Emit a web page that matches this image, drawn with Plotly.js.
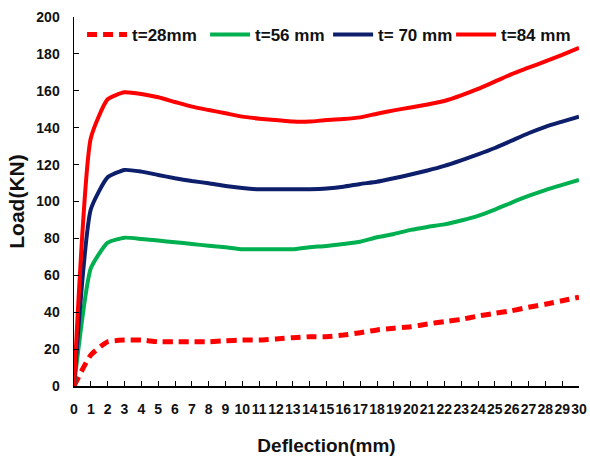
<!DOCTYPE html>
<html>
<head>
<meta charset="utf-8">
<script src="https://cdn.plot.ly/plotly-3.0.1.min.js"></script>
<style>html,body{margin:0;padding:0;background:#fff;}#chart{width:590px;height:464px;}</style>
</head>
<body>
<div id="chart"></div>
<script>
const deflection = [0,1,2,3,4,5,6,7,8,9,10,11,12,13,14,15,16,17,18,19,20,21,22,23,24,25,26,27,28,29,30];
const seriesNames = ["t=28mm", "t=56 mm", "t= 70 mm", "t=84 mm"];
const load28 = [0,16.8,24,24.9,24.9,24,24,24,24,24.5,24.9,24.9,25.5,26.2,26.7,26.7,27.6,28.9,30.4,31.3,32.1,33.6,34.9,36.1,37.9,39.4,40.8,42.7,44.3,46.2,48.1];
const load56 = [0,63.8,77.7,80.4,79.7,78.8,77.9,77,76,75.2,74.1,74.1,74.1,74.1,75.2,75.9,77,78.2,80.6,82.4,84.6,86.2,87.6,89.7,92.2,95.6,99.4,103,106.2,109,111.7];
const load70 = [0,95.8,113.1,117.1,116.2,114.4,112.6,111.1,109.9,108.4,107.3,106.6,106.6,106.6,106.7,107.1,108,109.5,110.7,112.6,114.6,116.8,119.3,122.3,125.5,129,133,137,140.5,143.3,146];
const load84 = [0,134.4,155.4,159.2,158.3,156.5,153.9,151.4,149.6,147.8,146,144.9,144.2,143.3,143.3,144.2,144.7,145.6,147.6,149.4,151,152.6,154.5,157.5,161,165,169,172.5,176,179.5,183.3];
const xTickLabels = deflection.map(String);
const yTickVals = [0,20,40,60,80,100,120,140,160,180,200];

const sans = '"Liberation Sans", Arial, sans-serif';
const allLoads = [load28, load56, load70, load84];
const styles = [
  {color:'#FF0000', width:5, dash:'10px,6px'},
  {color:'#00B050', width:4, dash:'solid'},
  {color:'#0D1F6B', width:4, dash:'solid'},
  {color:'#FF0000', width:4, dash:'solid'}
];
const traces = allLoads.map((ys, i) => ({
  x: deflection, y: ys, name: seriesNames[i], type:'scatter', mode:'lines',
  line: {color: styles[i].color, width: styles[i].width, dash: styles[i].dash, shape:'spline', smoothing:0.5}
}));

const layout = {
  width:590, height:464,
  margin:{l:74, r:11, t:17, b:78},
  paper_bgcolor:'#fff', plot_bgcolor:'#fff',
  font:{family:sans, color:'#000'},
  showlegend:true,
  legend:{orientation:'h', x:0.016, xanchor:'left', y:1.0, yanchor:'top',
    font:{family:sans, size:17, color:'#111', weight:'bold'},
    itemwidth:40, bgcolor:'rgba(0,0,0,0)', entrywidth:68},
  xaxis:{range:[0,30], tickmode:'array', tickvals:deflection, ticktext:xTickLabels, tickangle:0,
    showgrid:false, zeroline:false, showline:true, linecolor:'#000', linewidth:1.5,
    ticks:'inside', ticklen:5, tickcolor:'#000', ticklabelstandoff:10,
    tickfont:{family:sans, size:14, color:'#111', weight:'bold'},
    title:{text:'Deflection(mm)', font:{family:sans, size:19, color:'#111', weight:'bold'}, standoff:22}},
  yaxis:{range:[0,200], tickmode:'array', tickvals:yTickVals,
    showgrid:false, zeroline:false, showline:true, linecolor:'#000', linewidth:1.5,
    ticks:'inside', ticklen:5, tickcolor:'#000', ticklabelstandoff:10,
    tickfont:{family:sans, size:14, color:'#111', weight:'bold'},
    title:{text:'Load(KN)', font:{family:sans, size:21, color:'#111', weight:'bold'}, standoff:6}}
};
Plotly.newPlot('chart', traces, layout, {displayModeBar:false, staticPlot:true});
</script>
</body>
</html>
